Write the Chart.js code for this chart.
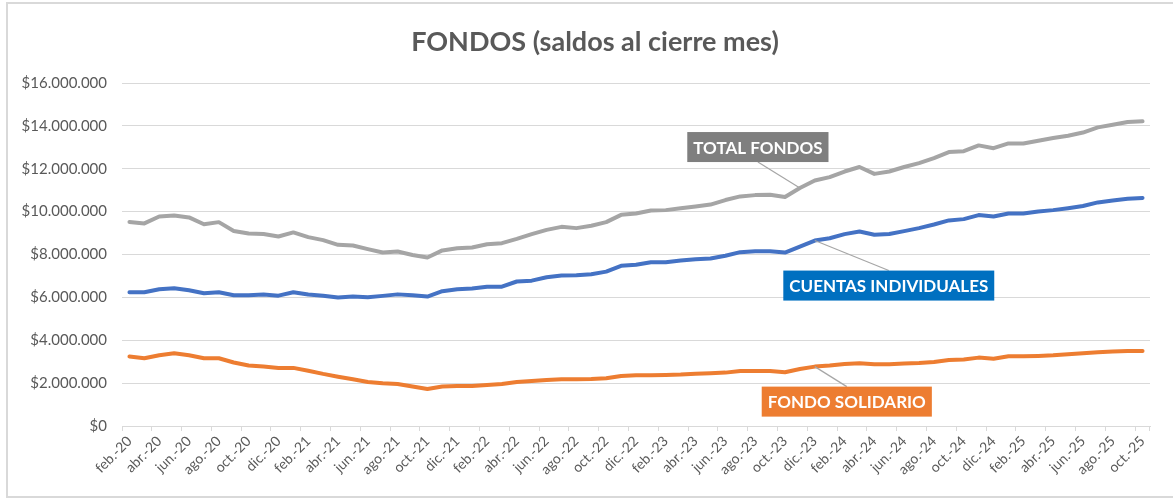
<!DOCTYPE html>
<html>
<head>
<meta charset="utf-8">
<script src="https://cdn.jsdelivr.net/npm/chart.js@4.4.1/dist/chart.umd.min.js"></script>
<style>
  html, body { margin: 0; padding: 0; background: #fff; }
  canvas { display: block; }
</style>
</head>
<body>
<canvas id="graph-container" width="1173" height="499"></canvas>
<script>
// Monthly closing balances, in millions of pesos (feb-20 .. oct-25)
const monthNames = ['ene.', 'feb.', 'mar.', 'abr.', 'may.', 'jun.', 'jul.', 'ago.', 'sept.', 'oct.', 'nov.', 'dic.'];

const totalFondos = [
  9.52, 9.45, 9.77, 9.82, 9.73, 9.41, 9.51, 9.10, 8.98, 8.96,
  8.84, 9.03, 8.81, 8.67, 8.45, 8.42, 8.25, 8.09, 8.14, 7.98,
  7.86, 8.19, 8.29, 8.33, 8.48, 8.53, 8.73, 8.95, 9.15, 9.29,
  9.23, 9.34, 9.51, 9.85, 9.91, 10.05, 10.07, 10.16, 10.24, 10.33,
  10.54, 10.71, 10.77, 10.79, 10.68, 11.10, 11.45, 11.61, 11.87, 12.08,
  11.76, 11.87, 12.08, 12.26, 12.50, 12.78, 12.82, 13.09, 12.96, 13.18,
  13.18, 13.31, 13.43, 13.54, 13.69, 13.93, 14.05, 14.18, 14.21
];

const cuentasIndividuales = [
  6.24, 6.24, 6.38, 6.43, 6.33, 6.19, 6.24, 6.10, 6.10, 6.13,
  6.08, 6.24, 6.13, 6.08, 5.99, 6.04, 6.01, 6.07, 6.14, 6.10,
  6.04, 6.29, 6.38, 6.41, 6.50, 6.50, 6.74, 6.78, 6.94, 7.02,
  7.03, 7.08, 7.20, 7.47, 7.52, 7.64, 7.64, 7.72, 7.78, 7.81,
  7.94, 8.11, 8.15, 8.15, 8.09, 8.37, 8.65, 8.76, 8.95, 9.07,
  8.92, 8.96, 9.09, 9.23, 9.40, 9.59, 9.65, 9.84, 9.77, 9.91,
  9.91, 10.01, 10.07, 10.16, 10.26, 10.43, 10.52, 10.60, 10.64
];

const fondoSolidario = [
  3.24, 3.16, 3.30, 3.39, 3.30, 3.16, 3.16, 2.96, 2.82, 2.77,
  2.71, 2.71, 2.58, 2.43, 2.30, 2.18, 2.05, 1.99, 1.96, 1.84,
  1.73, 1.84, 1.87, 1.87, 1.91, 1.96, 2.05, 2.10, 2.15, 2.18,
  2.18, 2.19, 2.23, 2.33, 2.37, 2.37, 2.38, 2.40, 2.44, 2.46,
  2.49, 2.57, 2.57, 2.57, 2.51, 2.66, 2.77, 2.82, 2.89, 2.93,
  2.88, 2.88, 2.91, 2.94, 2.99, 3.08, 3.10, 3.19, 3.14, 3.25,
  3.25, 3.27, 3.30, 3.35, 3.39, 3.44, 3.47, 3.50, 3.50
];

// Build "feb.-20" style labels
const labels = [];
for (let i = 0; i < totalFondos.length; i++) {
  const m = (1 + i) % 12;
  const y = 20 + Math.floor((1 + i) / 12);
  labels.push(`${monthNames[m]}-${y}`);
}

const chartTitle = 'FONDOS (saldos al cierre mes)';

const formatPesos = (v) => '$' + Math.round(v * 1e6).toString().replace(/\B(?=(\d{3})+(?!\d))/g, '.');

const GRID = '#d9d9d9';
const TEXT = '#595959';
const FONT = 'Lato';

// Callout labels (series name in a coloured box with a leader line)
const callouts = [
  { text: 'TOTAL FONDOS', ds: 0, idx: 45, dx: -42, dy: -41, fill: '#7f7f7f' },
  { text: 'CUENTAS INDIVIDUALES', ds: 1, idx: 46, dx: 74, dy: 45, fill: '#0070c0' },
  { text: 'FONDO SOLIDARIO', ds: 2, idx: 46, dx: 32, dy: 35, fill: '#ed7d31' }
];

const calloutPlugin = {
  id: 'callouts',
  beforeDraw(chart) {
    const { ctx } = chart;
    ctx.save();
    ctx.fillStyle = '#fff';
    ctx.fillRect(0, 0, chart.width, chart.height);
    ctx.strokeStyle = GRID;
    ctx.lineWidth = 2;
    ctx.strokeRect(7, 3, chart.width + 20, 494);
    // title, centred over the frame rather than the canvas
    ctx.fillStyle = TEXT;
    ctx.font = `bold 27px ${FONT}`;
    ctx.textAlign = 'center';
    ctx.textBaseline = 'middle';
    ctx.fillText(chartTitle, 595, 42);
    ctx.restore();
  },
  afterDatasetsDraw(chart) {
    const { ctx } = chart;
    ctx.save();
    ctx.font = `bold 17px ${FONT}`;
    callouts.forEach((c) => {
      const pt = chart.getDatasetMeta(c.ds).data[c.idx];
      const w = ctx.measureText(c.text).width + 12;
      const h = 30;
      const cx = pt.x + c.dx;
      const cy = pt.y + c.dy;
      const edgeY = c.dy < 0 ? cy + h / 2 : cy - h / 2;
      ctx.strokeStyle = '#a6a6a6';
      ctx.lineWidth = 1.2;
      ctx.beginPath();
      ctx.moveTo(cx, edgeY);
      ctx.lineTo(pt.x, pt.y);
      ctx.stroke();
      ctx.fillStyle = c.fill;
      ctx.fillRect(cx - w / 2, cy - h / 2, w, h);
      ctx.fillStyle = '#fff';
      ctx.textAlign = 'center';
      ctx.textBaseline = 'middle';
      ctx.fillText(c.text, cx, cy + 1);
    });
    ctx.restore();
  }
};

const lineDataset = (label, data, color) => ({
  label,
  data,
  borderColor: color,
  backgroundColor: color,
  borderWidth: 4,
  pointRadius: 0,
  tension: 0,
  borderCapStyle: 'round',
  borderJoinStyle: 'round'
});

new Chart(document.getElementById('graph-container'), {
  type: 'line',
  data: {
    labels,
    datasets: [
      lineDataset('TOTAL FONDOS', totalFondos, '#a5a5a5'),
      lineDataset('CUENTAS INDIVIDUALES', cuentasIndividuales, '#4472c4'),
      lineDataset('FONDO SOLIDARIO', fondoSolidario, '#ed7d31')
    ]
  },
  options: {
    responsive: false,
    animation: false,
    layout: { padding: { left: 0, right: 23, top: 83, bottom: 0 } },
    plugins: {
      legend: { display: false },
      tooltip: { enabled: false },
      title: { display: false }
    },
    scales: {
      x: {
        type: 'category',
        offset: true,
        afterFit: (s) => { s.height = 73; },
        grid: {
          offset: true,
          drawOnChartArea: false,
          drawTicks: true,
          tickLength: 5,
          color: (c) => (c.index === undefined || c.index % 2 === 0 ? GRID : 'rgba(0,0,0,0)')
        },
        border: { display: true, color: GRID, width: 1 },
        ticks: {
          autoSkip: false,
          maxRotation: 45,
          minRotation: 45,
          padding: 2,
          color: TEXT,
          font: { family: FONT, size: 14 },
          callback: (v, i) => (i % 2 === 0 ? labels[i] : '')
        }
      },
      y: {
        min: 0,
        max: 16,
        afterFit: (s) => { s.width = 122; },
        grid: { color: GRID, lineWidth: 1, drawTicks: false },
        border: { display: false },
        ticks: {
          stepSize: 2,
          padding: 15,
          color: TEXT,
          font: { family: FONT, size: 15 },
          callback: (v) => formatPesos(v)
        }
      }
    }
  },
  plugins: [calloutPlugin]
});
</script>
</body>
</html>
